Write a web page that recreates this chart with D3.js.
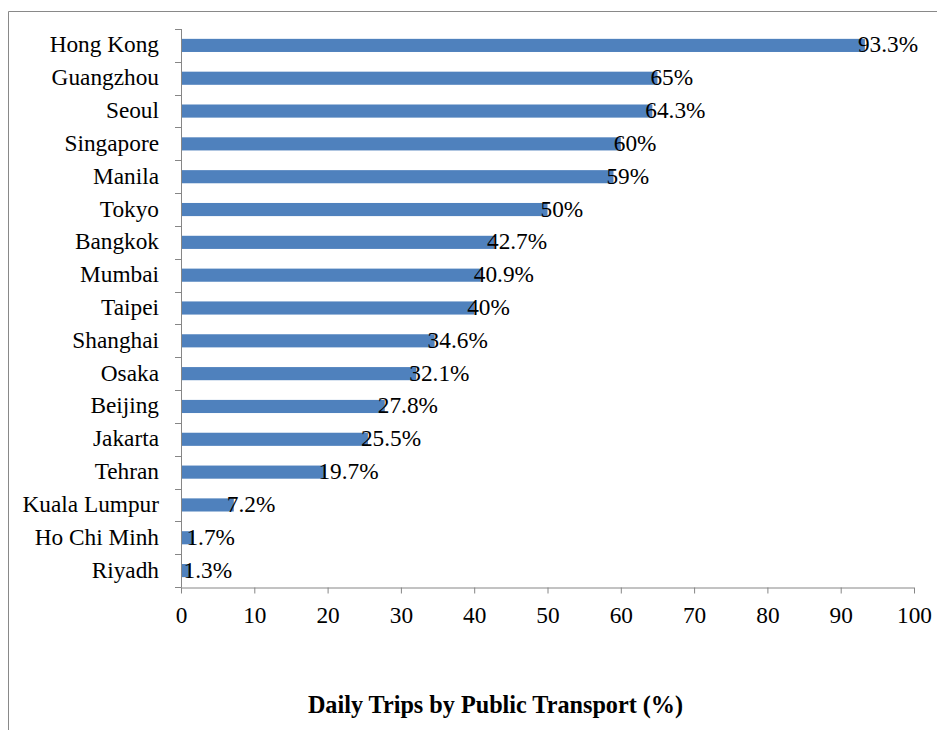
<!DOCTYPE html>
<html>
<head>
<meta charset="utf-8">
<script src="https://cdn.jsdelivr.net/npm/d3@7"></script>
<style>
  html, body { margin: 0; padding: 0; background: #fff; }
  svg { display: block; }
</style>
</head>
<body>
<svg id="chart" width="937" height="730"></svg>
<script>
const cities = ["Hong Kong","Guangzhou","Seoul","Singapore","Manila","Tokyo","Bangkok","Mumbai","Taipei","Shanghai","Osaka","Beijing","Jakarta","Tehran","Kuala Lumpur","Ho Chi Minh","Riyadh"];
const shares = [93.3,65,64.3,60,59,50,42.7,40.9,40,34.6,32.1,27.8,25.5,19.7,7.2,1.7,1.3];
const valueLabels = ["93.3%","65%","64.3%","60%","59%","50%","42.7%","40.9%","40%","34.6%","32.1%","27.8%","25.5%","19.7%","7.2%","1.7%","1.3%"];
const xTicks = [0,10,20,30,40,50,60,70,80,90,100];
const axisTitle = "Daily Trips by Public Transport (%)";

const svg = d3.select("#chart");
const FONT = "Liberation Serif";
const FS = 23.3;
const AXIS = "#868686";
const BAR = "#4F81BD";

// frame
svg.append("path")
  .attr("d", "M8.5,730 V11.5 H937")
  .attr("fill", "none").attr("stroke", "#898989").attr("stroke-width", 1);

const x = d3.scaleLinear().domain([0, 100]).range([181, 914]);
const y = d3.scaleBand().domain(cities).range([29, 587]).paddingInner(0.6).paddingOuter(0.3);
const step = y.step();

// bars
svg.append("g").selectAll("rect").data(cities).join("rect")
  .attr("x", x(0))
  .attr("y", d => y(d))
  .attr("width", (d, i) => x(shares[i]) - x(0))
  .attr("height", y.bandwidth())
  .attr("fill", BAR);

// y axis line + boundary ticks
const bounds = cities.map(d => y(d) - step * 0.3).concat([587]);
const gy = svg.append("g");
gy.append("line").attr("x1", 181.5).attr("x2", 181.5).attr("y1", 29).attr("y2", 587)
  .attr("stroke", AXIS);
gy.selectAll("line.t").data(bounds).join("line").attr("class", "t")
  .attr("x1", 175).attr("x2", 181.5)
  .attr("y1", d => Math.round(d) + 0.5).attr("y2", d => Math.round(d) + 0.5)
  .attr("stroke", AXIS);

// category labels
const yAxis = d3.axisLeft(y).tickSize(0).tickPadding(22);
const gl = svg.append("g").attr("transform", "translate(181,0)").call(yAxis)
  .attr("font-family", FONT).attr("font-size", FS);
gl.select(".domain").remove();
gl.selectAll("text").attr("font-family", FONT).attr("font-size", FS).attr("fill", "#000")
  .attr("dy", null).attr("y", 7);

// x axis
const xAxis = d3.axisBottom(x).tickValues(xTicks).tickSize(6).tickSizeOuter(0).tickPadding(12);
const gx = svg.append("g").attr("transform", "translate(0,587.5)").call(xAxis)
  .attr("font-family", FONT).attr("font-size", FS);
gx.select(".domain").attr("stroke", AXIS).attr("d", "M181,0.5 H914");
gx.selectAll(".tick line").attr("stroke", AXIS);
gx.selectAll(".tick text").attr("font-family", FONT).attr("font-size", FS).attr("fill", "#000")
  .attr("dy", null).attr("y", 35);

// value labels
svg.append("g").selectAll("text").data(cities).join("text")
  .attr("x", (d, i) => x(shares[i]) - 7)
  .attr("y", d => y(d) + y.bandwidth() / 2 + 7)
  .attr("font-family", FONT).attr("font-size", FS).attr("fill", "#000")
  .text((d, i) => valueLabels[i]);

// axis title
svg.append("text")
  .attr("x", 495.5).attr("y", 713)
  .attr("text-anchor", "middle")
  .attr("font-family", FONT).attr("font-size", 24.2).attr("font-weight", "bold")
  .attr("fill", "#000")
  .text(axisTitle);
</script>
</body>
</html>
